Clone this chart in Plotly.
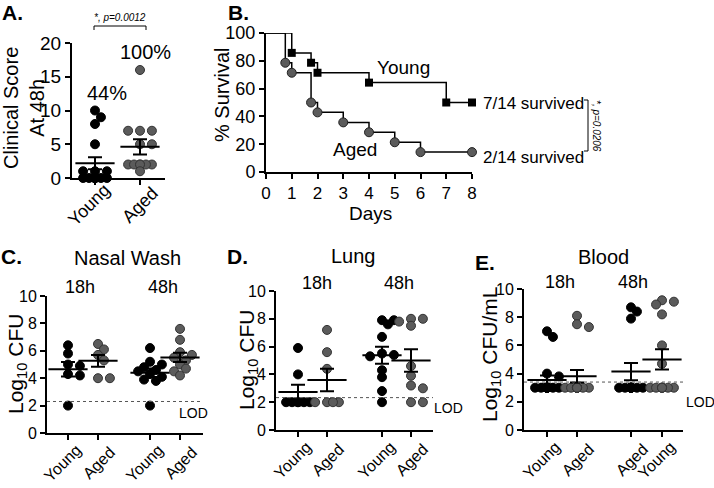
import numpy as np
import plotly.graph_objects as go

W, H = 714, 488

# ---- data ----
# A. clinical score at 48h
a_young = [10, 9, 8, 5, 1, 1, 1, 0, 0, 0, 0, 0, 0, 0, 0, 0]
a_aged = [16, 7, 7, 7, 5, 5, 2, 2, 2, 2, 2, 2, 1]
a_labels = ["Young", "Aged"]

# B. survival
b_days_young = [0, 1, 1.75, 2, 4, 7, 8]
b_surv_young = [100, 85.7, 78.6, 71.4, 64.3, 50, 50]
b_days_aged = [0, 0.75, 1, 1.75, 2, 3, 4, 5, 6, 8]
b_surv_aged = [100, 78.6, 71.4, 50, 42.9, 35.7, 28.6, 21.4, 14.3, 14.3]

# C. nasal wash (log10 CFU)
c_young_18 = [6.4, 5.8, 5.0, 4.9, 4.3, 4.2, 2.0]
c_aged_18 = [6.5, 6.1, 5.7, 5.3, 4.0, 4.0]
c_young_48 = [6.2, 5.2, 5.0, 4.8, 4.6, 4.5, 4.3, 4.1, 3.9, 3.8, 2.0]
c_aged_48 = [7.6, 6.8, 5.9, 5.7, 5.5, 5.3, 5.0, 4.7, 4.5, 4.2]
c_lod = 2.3

# D. lung (log10 CFU)
d_young_18 = [5.9, 4.0, 2.0, 2.0, 2.0, 2.0, 2.0, 2.0]
d_aged_18 = [7.2, 5.6, 4.4, 2.0, 2.0, 2.0, 2.0]
d_young_48 = [7.9, 7.9, 7.6, 6.7, 5.5, 5.4, 5.3, 4.3, 3.8, 2.8, 2.0]
d_aged_48 = [8.0, 8.0, 7.8, 7.5, 4.6, 3.9, 3.2, 3.0, 2.0, 2.0]
d_lod = 2.33

# E. blood (log10 CFU/mL)
e_young_18 = [7.0, 6.6, 4.0, 3.8, 3.0, 3.0, 3.0, 3.0, 3.0, 3.0, 3.0, 3.0, 3.0, 3.0, 3.0, 3.0, 3.0]
e_aged_18 = [8.1, 7.5, 7.3, 3.0, 3.0, 3.0, 3.0, 3.0, 3.0, 3.0, 3.0, 3.0, 3.0, 3.0, 3.0, 3.0, 3.0]
e_black_48 = [8.7, 8.4, 7.9, 3.0, 3.0, 3.0, 3.0, 3.0, 3.0, 3.0, 3.0, 3.0, 3.0, 3.0]
e_gray_48 = [9.2, 9.1, 8.9, 8.2, 6.0, 4.7, 3.0, 3.0, 3.0, 3.0, 3.0, 3.0, 3.0, 3.0]
e_lod = 3.4

cats4 = ["Young", "Aged", "Young", "Aged"]
cats4_e = ["Young", "Aged", "Aged", "Young"]

BLACK = "black"
GRAY = "#5b5b5b"
FONT = "Liberation Sans, Arial, sans-serif"


def px(x):
    return x / W


def py(y):
    return 1 - y / H


def swarm(vals, xpx, ypx, d=8.5, maxk=2):
    # simple beeswarm: offsets (x units) so markers overlap less
    step = d * 0.7 / xpx
    placed, offs = [], []
    ks = [0]
    for k in range(1, maxk + 1):
        ks += [k, -k]
    for v in vals:
        best, bestd = 0, -1
        for k in ks:
            ox = k * step
            if placed:
                md = min(np.hypot((ox - p0) * xpx, (v - p1) * ypx) for p0, p1 in placed)
            else:
                md = 1e9
            if md >= d * 0.8:
                best = ox
                break
            if md > bestd:
                bestd, best = md, ox
        placed.append((best, v))
        offs.append(best)
    return np.array(offs)


def txt(x, y, t, size=16, angle=0, bold=False, italic=False, xref="paper"):
    f = dict(size=size, color="black", family=FONT)
    if bold:
        f["weight"] = "bold"
    if italic:
        f["style"] = "italic"
    return dict(x=px(x) if xref == "paper" else x, y=py(y), xref=xref, yref="paper",
                text=t, showarrow=False, textangle=angle, font=f,
                xanchor="center", yanchor="middle")


fig = go.Figure()
annots = []

axis_base = dict(showline=True, linecolor="black", linewidth=2, ticks="outside",
                 ticklen=5, tickwidth=1.5, tickcolor="black", showgrid=False,
                 zeroline=False, automargin=False,
                 tickfont=dict(size=16, color="black", family=FONT), fixedrange=True)


def dot_panel(n, groups, colors, pos, y0px, y10px, xpx, ymax):
    xa = "x" if n == 1 else f"x{n}"
    ya = "y" if n == 1 else f"y{n}"
    ypx = (y0px - y10px) / ymax
    for vals, col, p in zip(groups, colors, pos):
        vals = np.array(vals, dtype=float)
        offs = swarm(vals, xpx, ypx)
        fig.add_trace(go.Scatter(
            x=p + offs, y=vals, mode="markers", xaxis=xa, yaxis=ya, showlegend=False,
            cliponaxis=False,
            marker=dict(size=9, color=col,
                        line=dict(color="#333" if col != BLACK else BLACK, width=1)),
        ))
        m = vals.mean()
        sem = vals.std(ddof=1) / np.sqrt(len(vals))
        fig.add_trace(go.Scatter(
            x=[p], y=[m], mode="markers", xaxis=xa, yaxis=ya, showlegend=False,
            cliponaxis=False,
            marker=dict(symbol="line-ew-open", size=28, color="black",
                        line=dict(color="black", width=2)),
            error_y=dict(type="data", array=[sem], width=7, thickness=2, color="black"),
        ))


def cat_labels(n, pos, labels, axis_y, size, xpx, dy=30):
    # rotated category labels centred under each tick (longer word sits a bit left)
    xa = "x" if n == 1 else f"x{n}"
    for p, lab in zip(pos, labels):
        dx = -6 if lab == "Young" else 0
        annots.append(txt(p + dx / xpx, axis_y + dy, lab, size, angle=-45, xref=xa))


layout = dict(width=W, height=H, margin=dict(l=0, r=0, t=0, b=0), autosize=False,
              template="none", plot_bgcolor="white", paper_bgcolor="white",
              font=dict(family=FONT, color="black"))

# ---------- panel A ----------
a_pos = [1, 2]
a_xpx = 45.0
a_x0, a_x1 = 72, 165
dot_panel(1, [a_young, a_aged], [BLACK, GRAY], a_pos, 178, 43, a_xpx, 20)
layout["xaxis"] = dict(axis_base, domain=[px(a_x0), px(a_x1)], anchor="y",
                       range=[1 - (95 - a_x0) / a_xpx, 1 + (a_x1 - 95) / a_xpx],
                       tickvals=a_pos, showticklabels=False)
layout["yaxis"] = dict(axis_base, domain=[py(178), py(43)], anchor="x", range=[0, 20],
                       dtick=5, tickfont=dict(size=19, color="black", family=FONT))
cat_labels(1, a_pos, a_labels, 178, 18, a_xpx, dy=27)

# ---------- panel B ----------
fig.add_trace(go.Scatter(x=b_days_young, y=b_surv_young, mode="lines", line_shape="hv",
                         line=dict(color="black", width=1.5), xaxis="x2", yaxis="y2",
                         showlegend=False))
fig.add_trace(go.Scatter(x=b_days_aged, y=b_surv_aged, mode="lines", line_shape="hv",
                         line=dict(color="black", width=1.5), xaxis="x2", yaxis="y2",
                         showlegend=False))
fig.add_trace(go.Scatter(x=b_days_young[1:], y=b_surv_young[1:], mode="markers",
                         marker=dict(symbol="square", size=8, color="black"),
                         xaxis="x2", yaxis="y2", showlegend=False, cliponaxis=False))
fig.add_trace(go.Scatter(x=b_days_aged[1:], y=b_surv_aged[1:], mode="markers",
                         marker=dict(symbol="circle", size=9, color=GRAY,
                                     line=dict(color="#222", width=1)),
                         xaxis="x2", yaxis="y2", showlegend=False, cliponaxis=False))
layout["xaxis2"] = dict(axis_base, domain=[px(266), px(472)], anchor="y2", range=[0, 8],
                        dtick=1, tickfont=dict(size=17, color="black", family=FONT))
layout["yaxis2"] = dict(axis_base, domain=[py(172), py(33)], anchor="x2", range=[0, 100],
                        dtick=20, tickfont=dict(size=18, color="black", family=FONT))

# ---------- panels C, D, E ----------
panels = [
    (3, [c_young_18, c_aged_18, c_young_48, c_aged_48], [BLACK, GRAY, BLACK, GRAY],
     [68, 98, 150, 180], 47, 203, 433, 296, cats4, c_lod),
    (4, [d_young_18, d_aged_18, d_young_48, d_aged_48], [BLACK, GRAY, BLACK, GRAY],
     [298, 327, 382, 411], 276, 433, 430, 291, cats4, d_lod),
    (5, [e_young_18, e_aged_18, e_black_48, e_gray_48], [BLACK, GRAY, BLACK, GRAY],
     [547, 577, 631, 662], 524, 683, 430, 289, cats4_e, e_lod),
]
shapes = []
for n, groups, cols, cpx, x0, x1, y0, y10, labels, lod in panels:
    xpx = 30.0
    pos = [1 + (c - cpx[0]) / xpx for c in cpx]
    dot_panel(n, groups, cols, pos, y0, y10, xpx, 10)
    layout[f"xaxis{n}"] = dict(axis_base, domain=[px(x0), px(x1)], anchor=f"y{n}",
                               range=[1 - (cpx[0] - x0) / xpx, 1 + (x1 - cpx[0]) / xpx],
                               tickvals=pos, showticklabels=False)
    layout[f"yaxis{n}"] = dict(axis_base, domain=[py(y0), py(y10)], anchor=f"x{n}",
                               range=[0, 10], dtick=2)
    cat_labels(n, pos, labels, y0, 16, xpx)
    shapes.append(dict(type="line", xref=f"x{n} domain", yref=f"y{n}", x0=0, x1=1,
                       y0=lod, y1=lod, line=dict(color="#555", width=1, dash="dot")))

# brackets
line_k = dict(color="black", width=1)
shapes += [
    dict(type="line", xref="paper", yref="paper", x0=px(94), x1=px(146), y0=py(26), y1=py(26), line=line_k),
    dict(type="line", xref="paper", yref="paper", x0=px(94), x1=px(94), y0=py(26), y1=py(30), line=line_k),
    dict(type="line", xref="paper", yref="paper", x0=px(146), x1=px(146), y0=py(26), y1=py(30), line=line_k),
    dict(type="line", xref="paper", yref="paper", x0=px(588), x1=px(588), y0=py(100), y1=py(151), line=line_k),
    dict(type="line", xref="paper", yref="paper", x0=px(584), x1=px(588), y0=py(100), y1=py(100), line=line_k),
    dict(type="line", xref="paper", yref="paper", x0=px(584), x1=px(588), y0=py(151), y1=py(151), line=line_k),
]
layout["shapes"] = shapes

annots += [
    txt(12, 12, "A.", 21, bold=True),
    txt(238, 12, "B.", 21, bold=True),
    txt(11, 256, "C.", 21, bold=True),
    txt(237, 256, "D.", 21, bold=True),
    txt(485, 262, "E.", 21, bold=True),
    txt(120, 17, "*, p=0.0012", 10, italic=True),
    txt(24, 108, "Clinical Score<br>At 48h", 20, angle=-90),
    txt(107, 93, "44%", 20),
    txt(145, 52, "100%", 20),
    txt(222, 95, "% Survival", 20, angle=-90),
    txt(370, 213, "Days", 19),
    txt(403, 67, "Young", 19),
    txt(355, 150, "Aged", 19),
    txt(533, 103, "7/14 survived", 17),
    txt(533, 157, "2/14 survived", 17),
    txt(597, 126, "*, p=0.0206", 10, angle=90, italic=True),
    txt(127, 258, "Nasal Wash", 20),
    txt(80, 287, "18h", 18),
    txt(163, 287, "48h", 18),
    txt(17, 364, "Log<sub>10</sub> CFU", 21, angle=-90),
    txt(193, 413, "LOD", 14),
    txt(353, 256, "Lung", 20),
    txt(317, 283, "18h", 18),
    txt(399, 283, "48h", 18),
    txt(248, 360, "Log<sub>10</sub> CFU", 21, angle=-90),
    txt(448, 408, "LOD", 14),
    txt(603, 257, "Blood", 20),
    txt(560, 282, "18h", 18),
    txt(633, 282, "48h", 18),
    txt(491, 355, "Log<sub>10</sub> CFU/mL", 21, angle=-90),
    txt(700, 402, "LOD", 14),
]
layout["annotations"] = annots

fig.update_layout(**layout)
# the page body has a default 8px margin; drop it so pixel positions line up
fig.write_html("out.html", config={"displayModeBar": False},
               post_script="document.body.style.margin='0px';")
